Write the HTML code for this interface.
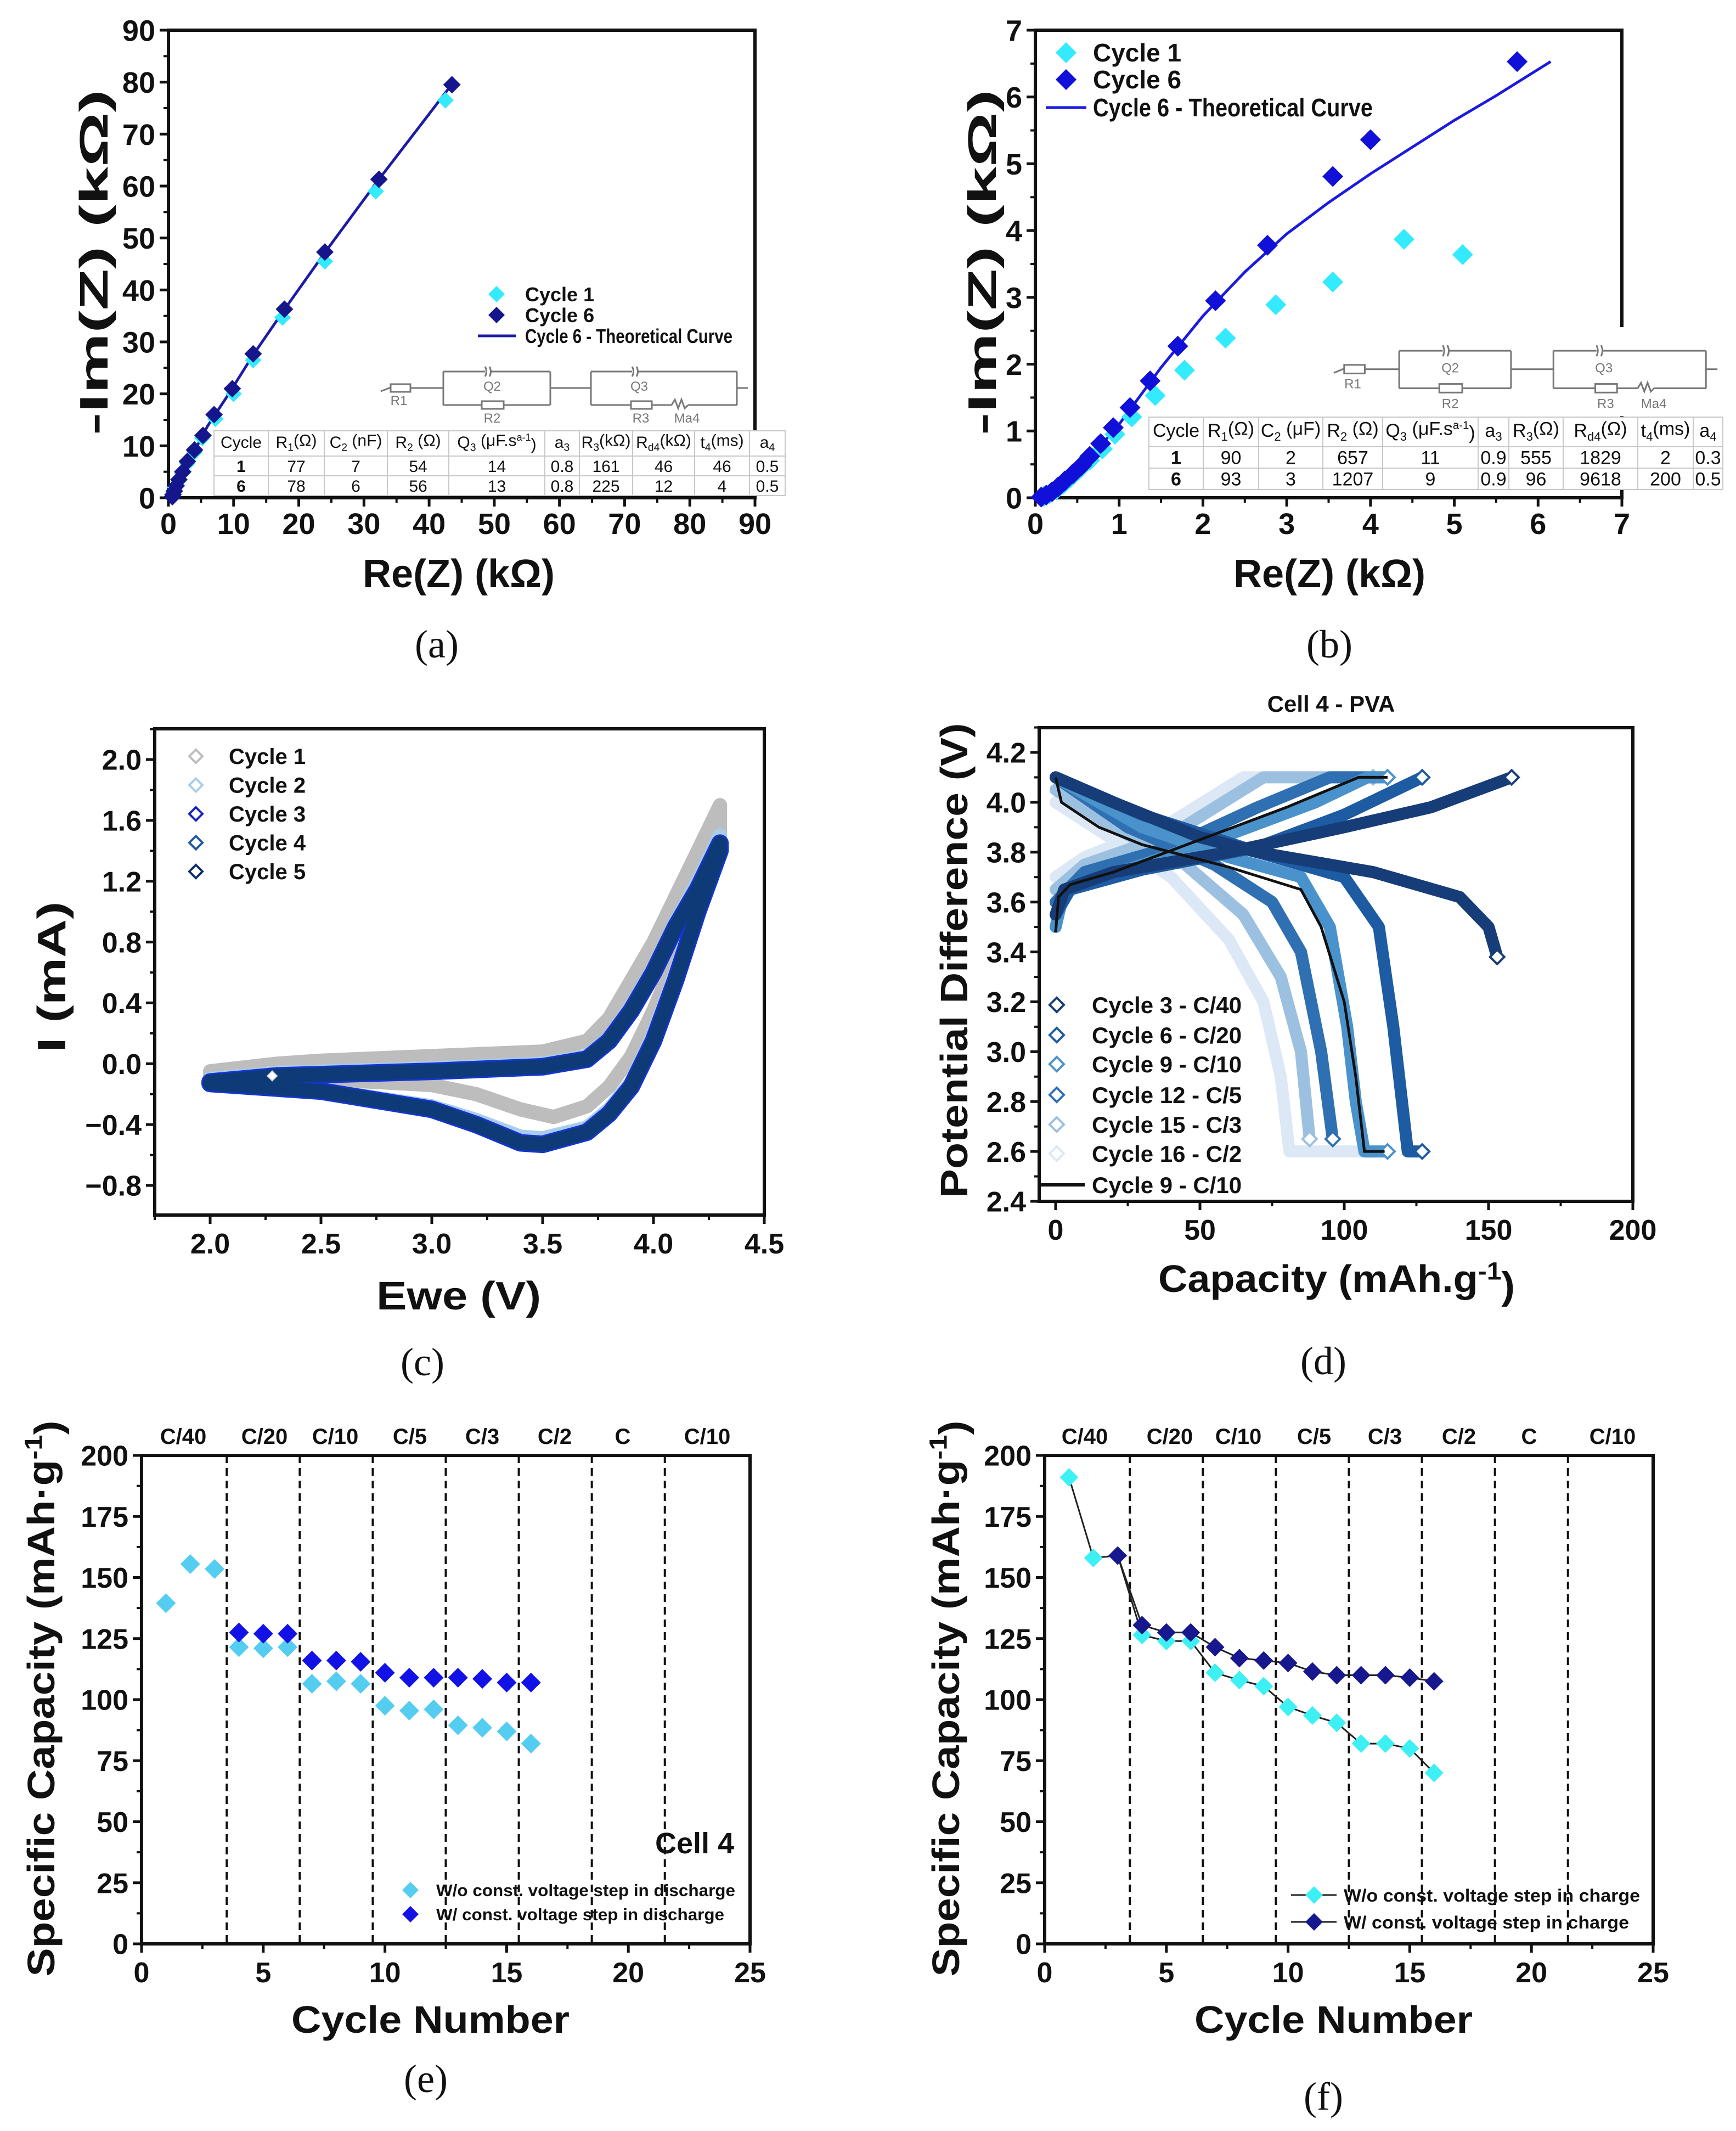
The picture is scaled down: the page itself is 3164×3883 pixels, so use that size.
<!DOCTYPE html>
<html><head><meta charset="utf-8"><title>EIS, CV and cycling figure</title>
<style>
html,body{margin:0;padding:0;background:#fff;}
svg{display:block;font-family:"Liberation Sans",Arial,sans-serif;}
</style></head>
<body>
<svg id="fig" xmlns="http://www.w3.org/2000/svg" width="3164" height="3883" viewBox="0 0 3164 3883">
<rect x="0" y="0" width="3164" height="3883" fill="#fff"/>
</svg>
<script>
// ---------- Panel (a) data ----------
const aTicks=[0,10,20,30,40,50,60,70,80,90];
const aC1X=[42.5,31.8,24,17.5,13,10,7.2,5.2,4,2.9,2.1,1.5,1.0,0.8,0.6];
const aC1Y=[76.5,59,45.5,34.7,26.5,20,15.2,11.5,8.8,6.6,4.7,3.2,2.0,1.0,0.3];
const aC6X=[43.5,32.3,24,17.8,13,9.8,7,5.3,4,2.9,2.2,1.6,1.2,0.9,0.7,0.6];
const aC6Y=[79.5,61.3,47.3,36.3,27.7,21,16,12,9.2,7,5,3.5,2.3,1.3,0.6,0.2];
const aFitX=[0.5,0.9,1.5,2.5,4,6,9,13,18,24,32,43.5];
const aFitY=[0,1,2.9,5.6,9,13.8,19.5,27.5,36.6,47.2,60.8,79.6];
// ---------- Panel (b) data ----------
const bTicks=[0,1,2,3,4,5,6,7];
const bC1X=[5.1,4.4,3.55,2.87,2.27,1.78,1.43,1.15,0.95,0.8,0.65,0.52,0.42,0.33,0.25,0.17,0.1];
const bC1Y=[3.64,3.87,3.23,2.89,2.39,1.91,1.53,1.21,0.95,0.73,0.56,0.42,0.3,0.2,0.12,0.06,0.02];
const bC6X=[5.75,4.0,3.55,2.77,2.15,1.7,1.37,1.13,0.93,0.78,0.65,0.55,0.45,0.35,0.27,0.2,0.13,0.07];
const bC6Y=[6.53,5.36,4.81,3.78,2.95,2.27,1.75,1.35,1.05,0.81,0.62,0.48,0.36,0.25,0.16,0.09,0.04,0.01];
const bFitX=[0.05,0.3,0.6,1.0,1.5,2.0,2.5,3.0,3.5,4.0,4.5,5.0,5.5,6.15];
const bFitY=[0,0.17,0.52,1.1,1.95,2.72,3.38,3.95,4.42,4.85,5.25,5.65,6.02,6.53];
// ---------- Panel (c) data ----------
const cXTicks=[2.0,2.5,3.0,3.5,4.0,4.5];
const cYTicks=[-0.8,-0.4,0.0,0.4,0.8,1.2,1.6,2.0];
const cC1X=[2.0,2.3,2.5,3.0,3.5,3.7,3.8,3.9,4.0,4.1,4.2,4.3,4.3,4.2,4.1,4.0,3.9,3.8,3.7,3.55,3.4,3.2,3.0,2.5,2.0];
const cC1Y=[-0.05,0.0,0.02,0.05,0.08,0.15,0.3,0.55,0.8,1.1,1.4,1.7,1.5,1.1,0.7,0.35,0.05,-0.15,-0.28,-0.35,-0.3,-0.2,-0.14,-0.1,-0.07];
const cC2X=[2.0,2.3,3.0,3.5,3.7,3.8,3.9,4.0,4.1,4.2,4.3,4.3,4.2,4.1,4.0,3.9,3.8,3.7,3.5,3.4,3.2,3.0,2.5,2.0];
const cC2Y=[-0.1,-0.06,-0.03,0.0,0.05,0.17,0.38,0.63,0.93,1.2,1.5,1.45,1.05,0.6,0.2,-0.12,-0.3,-0.42,-0.49,-0.48,-0.37,-0.28,-0.17,-0.12];
const cC5X=[2.0,2.3,3.0,3.5,3.7,3.8,3.9,4.0,4.1,4.2,4.3,4.3,4.2,4.1,4.0,3.9,3.8,3.7,3.5,3.4,3.2,3.0,2.5,2.0];
const cC5Y=[-0.12,-0.08,-0.05,-0.02,0.03,0.15,0.35,0.6,0.9,1.15,1.45,1.4,1.0,0.55,0.15,-0.15,-0.33,-0.45,-0.53,-0.52,-0.4,-0.3,-0.18,-0.13];
// ---------- Panel (d) data ----------
const dXTicks=[0,50,100,150,200];
const dYTicks=[2.4,2.6,2.8,3.0,3.2,3.4,3.6,3.8,4.0,4.2];
const dC3ChX=[0,3,20,60,100,130,158];
const dC3ChY=[3.55,3.65,3.72,3.8,3.9,3.98,4.1];
const dC3DisX=[0,20,50,70,110,140,150,153];
const dC3DisY=[4.1,4.0,3.86,3.8,3.72,3.62,3.5,3.38];
const dC6ChX=[0,5,30,70,100,127];
const dC6ChY=[3.55,3.65,3.73,3.82,3.95,4.1];
const dC6DisX=[0,30,70,100,112,117,120,122,127];
const dC6DisY=[4.1,3.95,3.8,3.7,3.5,3.1,2.8,2.6,2.6];
const dC9ChX=[0,3,30,60,90,108,115];
const dC9ChY=[3.5,3.65,3.75,3.87,4.0,4.1,4.1];
const dC9DisX=[0,30,60,85,95,101,104,107,115];
const dC9DisY=[4.1,3.9,3.78,3.7,3.5,3.1,2.8,2.6,2.6];
const dC12ChX=[0,10,40,70,95,115];
const dC12ChY=[3.6,3.72,3.82,3.98,4.1,4.1];
const dC12DisX=[0,25,55,75,85,92,96];
const dC12DisY=[4.1,3.9,3.75,3.6,3.4,3.0,2.65];
const dC15ChX=[0,10,40,65,72,110];
const dC15ChY=[3.65,3.75,3.87,4.05,4.1,4.1];
const dC15DisX=[0,20,45,65,78,85,88];
const dC15DisY=[4.05,3.9,3.75,3.55,3.3,3.0,2.65];
const dC16ChX=[0,10,40,65,110];
const dC16ChY=[3.7,3.78,3.92,4.1,4.1];
const dC16DisX=[0,20,40,60,72,78,81,115];
const dC16DisY=[4.0,3.85,3.7,3.45,3.2,2.9,2.6,2.6];
const dLineChX=[0,1,5,20,50,80,105,115];
const dLineChY=[3.48,3.62,3.67,3.72,3.85,3.98,4.1,4.1];
const dLineDisX=[0,2,15,30,60,85,92,100,104,107,114];
const dLineDisY=[4.1,4.0,3.9,3.83,3.74,3.65,3.5,3.2,2.9,2.6,2.6];
// ---------- Panel (e) data ----------
const eXTicks=[0,5,10,15,20,25];
const eYTicks=[0,25,50,75,100,125,150,175,200];
const rateLabels=['C/40','C/20','C/10','C/5','C/3','C/2','C','C/10'];
const rateBounds=[3.5,6.5,9.5,12.5,15.5,18.5,21.5];
const eWoCycles=[1,2,3,4,5,6,7,8,9,10,11,12,13,14,15,16];
const eWoVals=[139.5,155.5,153.5,121.5,121,121.5,106.5,107.5,106.5,97.5,95.5,96,89.5,88.5,87,82];
const eWCycles=[4,5,6,7,8,9,10,11,12,13,14,15,16];
const eWVals=[127.5,127,127,116,116,115.5,111,109,109,109,108.5,107,107];
// ---------- Panel (f) data ----------
const fWoCycles=[1,2,3,4,5,6,7,8,9,10,11,12,13,14,15,16];
const fWoVals=[191,158,159,126.5,124,124,111,108,105.5,97,93.5,90.5,82,82,80,70];
const fWCycles=[3,4,5,6,7,8,9,10,11,12,13,14,15,16];
const fWVals=[159,130.5,127.5,127.5,121.5,117,116,115,111.5,110,110,110,109,107.5];

const NS='http://www.w3.org/2000/svg';
const svg=document.getElementById('fig');
function el(tag,attrs,parent){
  const e=document.createElementNS(NS,tag);
  for(const k in attrs){e.setAttribute(k,attrs[k]);}
  (parent||svg).appendChild(e);
  return e;
}
function grp(name){
  const g=el('g',{});
  
  
  return g;
}
function txt(g,x,y,s,size,anchor,weight,extra){
  const a={x:x,y:y,'font-size':size,'text-anchor':anchor||'middle','font-weight':weight||'bold',fill:'#111'};
  if(extra){for(const k in extra)a[k]=extra[k];}
  const t=el('text',a,g);
  t.innerHTML=s;
  return t;
}
function lin(g,x1,y1,x2,y2,stroke,w,dash){
  const a={x1:x1,y1:y1,x2:x2,y2:y2,stroke:stroke,'stroke-width':w};
  if(dash)a['stroke-dasharray']=dash;
  return el('line',a,g);
}
function dpath(x,y,s){return 'M'+x+' '+(y-s)+'L'+(x+s)+' '+y+'L'+x+' '+(y+s)+'L'+(x-s)+' '+y+'Z';}
function polyD(xs,ys,X,Y){let d='';for(let i=0;i<xs.length;i++){d+=(i?'L':'M')+X(xs[i]).toFixed(1)+' '+Y(ys[i]).toFixed(1);}return d;}
function lin2(a0,a1,p0,p1){return v=>p0+(v-a0)*(p1-p0)/(a1-a0);}
function fmt1(v){return (v<0?'\u2212':'')+Math.abs(v).toFixed(1);}

function axes(g,cfg){
  const fr=el('rect',{x:cfg.L,y:cfg.T,width:cfg.R-cfg.L,height:cfg.B-cfg.T,fill:'none',stroke:'#111','stroke-width':6},g);
  
  
  for(let v=cfg.xMinor[0];v<=cfg.xMinor[1]+1e-9;v+=cfg.xMinor[2]){
    const x=cfg.X(v); if(x<cfg.L-1||x>cfg.R+1)continue;
    const t=lin(g,x,cfg.B,x,cfg.B+9,'#111',4);
    
    
  }
  cfg.xTicks.forEach(v=>{
    const x=cfg.X(v);
    const t=lin(g,x,cfg.B,x,cfg.B+16,'#111',5);
    
    
    const l=txt(g,x,cfg.B+cfg.xlOff,cfg.xFmt(v),cfg.fs,'middle');
    
    
  });
  for(let v=cfg.yMinor[0];v<=cfg.yMinor[1]+1e-9;v+=cfg.yMinor[2]){
    const y=cfg.Y(v); if(y<cfg.T-1||y>cfg.B+1)continue;
    const t=lin(g,cfg.L-9,y,cfg.L,y,'#111',4);
    
    
  }
  cfg.yTicks.forEach(v=>{
    const y=cfg.Y(v);
    const t=lin(g,cfg.L-16,y,cfg.L,y,'#111',5);
    
    
    const l=txt(g,cfg.L-24,y+cfg.fs*0.36,cfg.yFmt(v),cfg.fs,'end');
    
    
  });
  const xt=txt(g,cfg.xtX,cfg.xtY,cfg.xTitle,cfg.tfs,'middle','bold',{textLength:cfg.xtLen,lengthAdjust:'spacingAndGlyphs'});
  
  
  const yt=txt(g,cfg.ytX,cfg.ytY,cfg.yTitle,cfg.tfs,'middle','bold',{textLength:cfg.ytLen,lengthAdjust:'spacingAndGlyphs',transform:'rotate(-90 '+cfg.ytX+' '+cfg.ytY+')'});
  
  
  const pl=txt(g,cfg.plX,cfg.plY,cfg.pl,72,'middle','normal',{'font-family':'"Liberation Serif",serif'});
  
  
}
function sub(b,s,r){return b+'<tspan font-size="65%" dy="0.3em">'+s+'</tspan><tspan dy="-0.3em">'+r+'</tspan>';}
const qHead='Q<tspan font-size="65%" dy="0.3em">3</tspan><tspan dy="-0.3em"> (μF.s</tspan><tspan font-size="60%" dy="-0.55em">a-1</tspan><tspan dy="0.55em">)</tspan>';

function table(g,cols,rows,head,data,fs){
  const bg=el('rect',{x:cols[0],y:rows[0],width:cols[cols.length-1]-cols[0],height:rows[rows.length-1]-rows[0],fill:'#fff',stroke:'#c8c8c8','stroke-width':2},g);
  
  
  cols.forEach(c=>{const l=lin(g,c,rows[0],c,rows[rows.length-1],'#c8c8c8',2);});
  rows.forEach(r=>{const l=lin(g,cols[0],r,cols[cols.length-1],r,'#c8c8c8',2);});
  const all=[head].concat(data);
  all.forEach((row,ri)=>{
    row.forEach((s,ci)=>{
      const cx=(cols[ci]+cols[ci+1])/2, cy=(rows[ri]+rows[ri+1])/2+fs*0.36-(ri===0?3:0);
      const t=txt(g,cx,cy,s,fs,'middle',(ci===0&&ri>0)?'bold':'normal');
      
      
    });
  });
}
function circuit(g,ox,oy,sx,sy){
  const P=(x,y)=>[ox+x*sx,oy+y*sy];
  const c='#777';
  const segs=[[0,37,18,30],[54,31,114,31],[309,31,383,31],[649,31,669,31],
    [114,1,190,1],[200,1,309,1],[114,62,184,62],[224,62,309,62],[114,1,114,62],[309,1,309,62],
    [383,1,458,1],[468,1,649,1],[383,62,456,62],[494,62,530,62],[560,62,649,62],[383,1,383,62],[649,1,649,62]];
  segs.forEach(s=>{const a=P(s[0],s[1]),b=P(s[2],s[3]);const l=lin(g,a[0],a[1],b[0],b[1],c,3);});
  [[18,24,36,14],[184,55,40,14],[456,55,38,14]].forEach(r=>{const a=P(r[0],r[1]);const e=el('rect',{x:a[0],y:a[1],width:r[2]*sx,height:r[3]*sy,fill:'#fff',stroke:c,'stroke-width':3},g);});
  [[190],[458]].forEach(q=>{[0,8].forEach(o=>{const a=P(q[0]+o,-8),b=P(q[0]+o+5,1),d=P(q[0]+o,10);const p=el('path',{d:'M'+a[0]+' '+a[1]+'Q'+b[0]+' '+b[1]+' '+d[0]+' '+d[1],fill:'none',stroke:c,'stroke-width':3},g);});});
  const m=P(530,62),m2=P(560,62);
  const w=el('path',{d:'M'+m[0]+' '+m[1]+'l6 -10l6 16l6 -16l6 16l6 -6L'+m2[0]+' '+m2[1],fill:'none',stroke:c,'stroke-width':3},g);
  
  
  [['R1',33,62],['Q2',203,36],['R2',203,94],['Q3',471,36],['R3',474,94],['Ma4',558,94]].forEach(l=>{const a=P(l[1],l[2]);const t=txt(g,a[0],a[1],l[0],24,'middle','normal',{fill:'#777'});});
}

// ================= Panel (a) =================
(function(){
  const g=grp('panel-a-nyquist');
  const X=lin2(0,90,307,1376), Y=lin2(0,90,907,55);
  axes(g,{L:307,R:1376,T:55,B:907,X:X,Y:Y,xTicks:aTicks,yTicks:aTicks,xMinor:[0,90,5],yMinor:[0,90,5],
    xFmt:v=>String(v),yFmt:v=>String(v),fs:54,xlOff:66,tfs:72,
    xTitle:'Re(Z) (kΩ)',xtX:836,xtY:1070,xtLen:350,yTitle:'-Im(Z) (kΩ)',ytX:196,ytY:478,ytLen:630,
    pl:'(a)',plX:796,plY:1198});
  const fit=el('path',{d:polyD(aFitX,aFitY,X,Y),fill:'none',stroke:'#1c1ca8','stroke-width':5},g);
  
  
  aC1X.forEach((v,i)=>{const p=el('path',{d:dpath(X(v),Y(aC1Y[i]),15),fill:'#33eaff'},g);});
  aC6X.forEach((v,i)=>{const p=el('path',{d:dpath(X(v),Y(aC6Y[i]),16),fill:'#16168c'},g);});
  const l1=el('path',{d:dpath(905,536,15),fill:'#33eaff'},g);
  const l2=el('path',{d:dpath(905,574,15),fill:'#16168c'},g);
  const l3=lin(g,871,612,940,612,'#1c1ca8',5);
  const t1=txt(g,957,549,'Cycle 1',36,'start');
  const t2=txt(g,957,587,'Cycle 6',36,'start');
  const t3=txt(g,957,625,'Cycle 6 - Theoretical Curve',36,'start',null,{textLength:378,lengthAdjust:'spacingAndGlyphs'});
  circuit(g,694,676,1,1);
  table(g,[390,489,591,706,818,993,1056,1153,1266,1366,1431],[785,831,867,903],
    ['Cycle',sub('R','1','(Ω)'),sub('C','2',' (nF)'),sub('R','2',' (Ω)'),qHead,sub('a','3',''),sub('R','3','(kΩ)'),sub('R','d4','(kΩ)'),sub('t','4','(ms)'),sub('a','4','')],
    [['1','77','7','54','14','0.8','161','46','46','0.5'],['6','78','6','56','13','0.8','225','12','4','0.5']],30);
})();

// ================= Panel (b) =================
(function(){
  const g=grp('panel-b-nyquist-zoom');
  const X=lin2(0,7,1887,2956), Y=lin2(0,7,907,55);
  axes(g,{L:1887,R:2956,T:55,B:907,X:X,Y:Y,xTicks:bTicks,yTicks:bTicks,xMinor:[0,7,0.5],yMinor:[0,7,0.5],
    xFmt:v=>String(v),yFmt:v=>String(v),fs:54,xlOff:66,tfs:72,
    xTitle:'Re(Z) (kΩ)',xtX:2423,xtY:1070,xtLen:350,yTitle:'-Im(Z) (kΩ)',ytX:1815,ytY:478,ytLen:630,
    pl:'(b)',plX:2423,plY:1198});
  const cover=el('rect',{x:2420,y:596,width:730,height:162,fill:'#fff'},g);
  
  
  const fit=el('path',{d:polyD(bFitX,bFitY,X,Y),fill:'none',stroke:'#1a1ae0','stroke-width':5},g);
  
  
  bC1X.forEach((v,i)=>{const p=el('path',{d:dpath(X(v),Y(bC1Y[i]),19),fill:'#33eaff'},g);});
  bC6X.forEach((v,i)=>{const p=el('path',{d:dpath(X(v),Y(bC6Y[i]),19),fill:'#1010d8'},g);});
  const l1=el('path',{d:dpath(1943,96,19),fill:'#33eaff'},g);
  const l2=el('path',{d:dpath(1943,145,19),fill:'#1010d8'},g);
  const l3=lin(g,1906,196,1980,196,'#1a1ae0',5);
  const t1=txt(g,1992,112,'Cycle 1',46,'start');
  const t2=txt(g,1992,161,'Cycle 6',46,'start');
  const t3=txt(g,1992,212,'Cycle 6 - Theoretical Curve',46,'start',null,{textLength:510,lengthAdjust:'spacingAndGlyphs'});
  circuit(g,2431,638,1.045,1.12);
  table(g,[2094,2193,2294,2411,2520,2694,2750,2849,2985,3086,3140],[760,814,853,892],
    ['Cycle',sub('R','1','(Ω)'),sub('C','2',' (μF)'),sub('R','2',' (Ω)'),qHead,sub('a','3',''),sub('R','3','(Ω)'),sub('R','d4','(Ω)'),sub('t','4','(ms)'),sub('a','4','')],
    [['1','90','2','657','11','0.9','555','1829','2','0.3'],['6','93','3','1207','9','0.9','96','9618','200','0.5']],34);
})();

// ================= Panel (c) =================
(function(){
  const g=grp('panel-c-cyclic-voltammetry');
  const X=lin2(2.0,4.5,383,1393), Y=lin2(2.0,-0.8,1384,2160);
  axes(g,{L:282,R:1393,T:1328,B:2214,X:X,Y:Y,xTicks:cXTicks,yTicks:cYTicks,xMinor:[1.75,4.5,0.25],yMinor:[-1.0,2.2,0.2],
    xFmt:v=>v.toFixed(1),yFmt:fmt1,fs:52,xlOff:70,tfs:72,
    xTitle:'Ewe (V)',xtX:836,xtY:2386,xtLen:300,yTitle:'I (mA)',ytX:119,ytY:1780,ytLen:275,
    pl:'(c)',plX:770,plY:2506});
  const series=[[cC1X,cC1Y,'#bdbdbd','cycle1-curve',26],[cC2X,cC2Y,'#a9cdea','cycle2-curve',26],[cC5X,cC5Y,'#1535d0','cycle3-curve',32],[cC5X,cC5Y,'#0e3a78','cycle5-curve',26]];
  series.forEach(s=>{
    const p=el('path',{d:polyD(s[0],s[1],X,Y),fill:'none',stroke:s[2],'stroke-width':s[4],'stroke-linejoin':'round','stroke-linecap':'round'},g);
    
    
  });
  const wd=el('path',{d:dpath(X(2.28),Y(-0.08),9),fill:'#fff',stroke:'#ccc','stroke-width':2},g);
  
  
  const lc=['#bdbdbd','#a9cdea','#1520c0','#1f5aa0','#0e2f6a'];
  for(let i=0;i<5;i++){
    const y=1378+i*52.5;
    const m=el('path',{d:dpath(357,y,12),fill:'#fff',stroke:lc[i],'stroke-width':4},g);
    
    
    const t=txt(g,417,y+14,'Cycle '+(i+1),40,'start');
    
    
  }
})();

// ================= Panel (d) =================
(function(){
  const g=grp('panel-d-charge-discharge');
  const X=lin2(0,200,1924,2976), Y=lin2(2.4,4.2,2189,1371);
  axes(g,{L:1894,R:2976,T:1326,B:2189,X:X,Y:Y,xTicks:dXTicks,yTicks:dYTicks,xMinor:[0,200,25],yMinor:[2.4,4.3,0.1],
    xFmt:v=>String(v),yFmt:v=>v.toFixed(1),fs:52,xlOff:70,tfs:70,
    xTitle:'Capacity (mAh.g<tspan font-size="65%" dy="-0.5em">-1</tspan><tspan dy="0.5em">)</tspan>',xtX:2436,xtY:2354,xtLen:650,
    yTitle:'Potential Difference (V)',ytX:1763,ytY:1750,ytLen:865,pl:'(d)',plX:2412,plY:2504});
  const tt=txt(g,2426,1297,'Cell 4 - PVA',42,'middle');
  
  
  const S=[
    [dC16ChX,dC16ChY,dC16DisX,dC16DisY,'#dce8f5','cycle16-c2'],
    [dC15ChX,dC15ChY,dC15DisX,dC15DisY,'#9cc0e0','cycle15-c3'],
    [dC12ChX,dC12ChY,dC12DisX,dC12DisY,'#2f70b2','cycle12-c5'],
    [dC9ChX,dC9ChY,dC9DisX,dC9DisY,'#4a92cc','cycle9-c10'],
    [dC6ChX,dC6ChY,dC6DisX,dC6DisY,'#1d5ba2','cycle6-c20'],
    [dC3ChX,dC3ChY,dC3DisX,dC3DisY,'#173d78','cycle3-c40']];
  S.forEach(s=>{
    [[s[0],s[1],'charge'],[s[2],s[3],'discharge']].forEach(c=>{
      const p=el('path',{d:polyD(c[0],c[1],X,Y),fill:'none',stroke:s[4],'stroke-width':22,'stroke-linejoin':'round','stroke-linecap':'round'},g);
      
      
      const n=c[0].length-1;
      const m=el('path',{d:dpath(X(c[0][n]),Y(c[1][n]),13),fill:'#fff',stroke:s[4],'stroke-width':4},g);
      
      
    });
  });
  [[dLineChX,dLineChY,'charge'],[dLineDisX,dLineDisY,'discharge']].forEach(c=>{
    const p=el('path',{d:polyD(c[0],c[1],X,Y),fill:'none',stroke:'#111','stroke-width':5},g);
    
    
  });
  const names=['Cycle 3 - C/40','Cycle 6 - C/20','Cycle 9 - C/10','Cycle 12 - C/5','Cycle 15 - C/3','Cycle 16 - C/2'];
  const lc=['#173d78','#1d5ba2','#4a92cc','#2f70b2','#9cc0e0','#dce8f5'];
  const ly=[1831,1886,1939,1995,2049,2102];
  names.forEach((n,i)=>{
    const m=el('path',{d:dpath(1926,ly[i],13),fill:'#fff',stroke:lc[i],'stroke-width':4},g);
    
    
    const t=txt(g,1990,ly[i]+15,n,42,'start');
    
    
  });
  const bl=lin(g,1894,2159,1977,2159,'#111',6);
  
  
  const bt=txt(g,1990,2174,'Cycle 9 - C/10',42,'start');
  
  
})();

// ================= Panels (e) and (f) =================
function capPanel(id,L,plX,ytX,labelXs,opts){
  const g=grp(id);
  const R=L+1109;
  const X=lin2(0,25,L,R), Y=lin2(0,200,3542,2652);
  axes(g,{L:L,R:R,T:2652,B:3542,X:X,Y:Y,xTicks:eXTicks,yTicks:eYTicks,xMinor:[0,25,2.5],yMinor:[0,200,12.5],
    xFmt:v=>String(v),yFmt:v=>String(v),fs:52,xlOff:70,tfs:70,
    xTitle:'Cycle Number',xtX:(L+R)/2-28,xtY:3704,xtLen:507,
    yTitle:'Specific Capacity (mAh·g<tspan font-size="65%" dy="-0.5em">-1</tspan><tspan dy="0.5em">)</tspan>',ytX:ytX,ytY:3095,ytLen:1013,
    pl:opts.pl,plX:plX,plY:opts.plY});
  rateBounds.forEach(b=>{
    const l=lin(g,X(b),2652,X(b),3542,'#111',4,'14 9');
    
    
  });
  rateLabels.forEach((s,i)=>{
    const t=txt(g,labelXs[i],2631,s,40,'middle');
    
    
  });
  return {g:g,X:X,Y:Y};
}
(function(){
  const p=capPanel('panel-e-capacity-discharge',258,776,99,[334,482,611,747,879,1011,1135,1289],{pl:'(e)',plY:3812});
  eWoCycles.forEach((c,i)=>{const d=el('path',{d:dpath(p.X(c),p.Y(eWoVals[i]),18),fill:'#55cdf0'},p.g);});
  eWCycles.forEach((c,i)=>{const d=el('path',{d:dpath(p.X(c),p.Y(eWVals[i]),18),fill:'#1212e6'},p.g);});
  const ct=txt(p.g,1266,3377,'Cell 4',54,'middle');
  
  
  const m1=el('path',{d:dpath(748,3444,15),fill:'#55cdf0'},p.g);
  const m2=el('path',{d:dpath(748,3488,15),fill:'#1212e6'},p.g);
  const t1=txt(p.g,795,3455,'W/o const. voltage step in discharge',31,'start',null,{textLength:545,lengthAdjust:'spacingAndGlyphs'});
  const t2=txt(p.g,795,3499,'W/ const. voltage step in discharge',31,'start',null,{textLength:525,lengthAdjust:'spacingAndGlyphs'});
})();
(function(){
  const p=capPanel('panel-f-capacity-charge',1904,2412,1748,[1977,2132,2257,2395,2524,2659,2787,2939],{pl:'(f)',plY:3844});
  const l1=el('path',{d:polyD(fWoCycles,fWoVals,p.X,p.Y),fill:'none',stroke:'#222','stroke-width':3},p.g);
  
  
  const l2=el('path',{d:polyD(fWCycles,fWVals,p.X,p.Y),fill:'none',stroke:'#222','stroke-width':3},p.g);
  
  
  fWoCycles.forEach((c,i)=>{const d=el('path',{d:dpath(p.X(c),p.Y(fWoVals[i]),17),fill:'#3cf0f4'},p.g);});
  fWCycles.forEach((c,i)=>{const d=el('path',{d:dpath(p.X(c),p.Y(fWVals[i]),17),fill:'#17178e'},p.g);});
  const a=lin(p.g,2353,3453,2436,3453,'#222',3);
  const b=lin(p.g,2353,3502,2436,3502,'#222',3);
  const m1=el('path',{d:dpath(2395,3453,16),fill:'#3cf0f4'},p.g);
  const m2=el('path',{d:dpath(2395,3502,16),fill:'#17178e'},p.g);
  const t1=txt(p.g,2449,3465,'W/o const. voltage step in charge',32,'start',null,{textLength:540,lengthAdjust:'spacingAndGlyphs'});
  const t2=txt(p.g,2449,3514,'W/ const. voltage step in charge',32,'start',null,{textLength:520,lengthAdjust:'spacingAndGlyphs'});
})();
</script>
</body></html>
